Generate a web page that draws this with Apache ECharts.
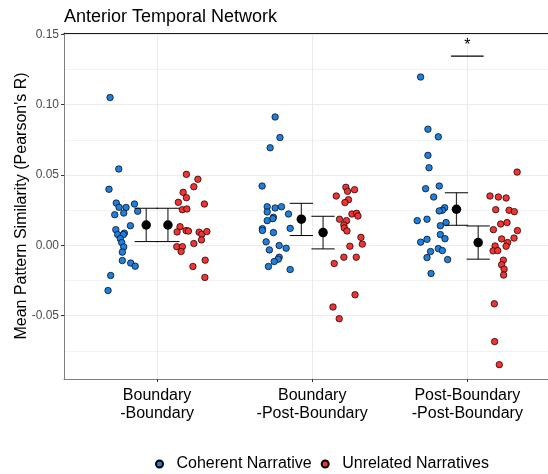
<!DOCTYPE html>
<html><head><meta charset="utf-8">
<script src="https://cdn.jsdelivr.net/npm/echarts@6/dist/echarts.min.js"></script>
<style>html,body{margin:0;padding:0;background:#fff}#c{width:548px;height:474px}</style>
</head><body><div id="c"></div>
<script>
// ---- data ----
const categories = ['Boundary\n-Boundary', 'Boundary\n-Post-Boundary', 'Post-Boundary\n-Post-Boundary'];
const yTicks = [-0.05, 0, 0.05, 0.10, 0.15];
const yMinorTicks = [-0.075, -0.025, 0.025, 0.075, 0.125];
const seriesNames = ['Coherent Narrative', 'Unrelated Narratives'];

const coherentCat1 = [0.1051,0.0543,0.0399,0.0301,0.0271,0.0270,0.0294,0.0243,0.0218,0.0230,0.0140,0.0112,0.0087,0.0077,0.0077,0.0048,0.0020,-0.0011,-0.0048,-0.0108,-0.0126,-0.0148,-0.0214,-0.0321];
const coherentCat1Jitter = [-0.303,-0.247,-0.310,-0.263,-0.245,-0.200,-0.146,-0.125,-0.273,-0.215,-0.172,-0.266,-0.211,-0.254,-0.217,-0.237,-0.228,-0.215,-0.224,-0.224,-0.170,-0.141,-0.299,-0.316];
const coherentCat2 = [0.0913,0.0767,0.0694,0.0422,0.0275,0.0266,0.0275,0.0238,0.0223,0.0200,0.0190,0.0176,0.0119,0.0106,0.0121,0.0091,0.0025,-0.0001,-0.0020,-0.0032,-0.0084,-0.0098,-0.0115,-0.0150,-0.0172];
const coherentCat2Jitter = [-0.239,-0.208,-0.271,-0.323,-0.290,-0.239,-0.198,-0.290,-0.153,-0.250,-0.254,-0.290,-0.321,-0.321,-0.142,-0.250,-0.297,-0.213,-0.168,-0.276,-0.213,-0.219,-0.245,-0.282,-0.142];
const coherentCat3 = [0.1197,0.0826,0.0772,0.0640,0.0552,0.0403,0.0422,0.0344,0.0268,0.0250,0.0245,0.0176,0.0186,0.0162,0.0140,0.0077,0.0048,0.0043,0.0023,-0.0044,-0.0023,-0.0037,-0.0087,-0.0101,-0.0200];
const coherentCat3Jitter = [-0.301,-0.254,-0.187,-0.254,-0.247,-0.269,-0.181,-0.217,-0.146,-0.161,-0.181,-0.323,-0.260,-0.137,-0.174,-0.174,-0.144,-0.260,-0.301,-0.237,-0.187,-0.161,-0.260,-0.127,-0.234];

const unrelatedCat1 = [0.0505,0.0470,0.0417,0.0377,0.0339,0.0306,0.0294,0.0254,0.0259,0.0133,0.0096,0.0105,0.0102,0.0094,0.0079,0.0098,0.0039,0.0013,-0.0009,-0.0009,-0.0044,-0.0105,-0.0150,-0.0228];
const unrelatedCat1Jitter = [0.189,0.263,0.237,0.168,0.189,0.137,0.305,0.163,0.192,0.148,0.129,0.187,0.202,0.271,0.288,0.321,0.286,0.237,0.127,0.163,0.155,0.310,0.231,0.308];
const unrelatedCat2 = [0.0413,0.0396,0.0384,0.0351,0.0325,0.0304,0.0223,0.0228,0.0209,0.0186,0.0176,0.0145,0.0124,0.0103,0.0057,0.0009,-0.0006,-0.0084,-0.0084,-0.0129,-0.0351,-0.0438,-0.0521];
const unrelatedCat2Jitter = [0.217,0.273,0.228,0.155,0.234,0.211,0.256,0.286,0.295,0.176,0.221,0.204,0.207,0.224,0.314,0.323,0.243,0.204,0.284,0.142,0.276,0.134,0.174];
const unrelatedCat3 = [0.0521,0.0351,0.0344,0.0337,0.0254,0.0250,0.0240,0.0152,0.0162,0.0112,0.0105,0.0046,0.0052,0.0020,-0.0006,-0.0004,-0.0039,-0.0037,-0.0105,-0.0138,-0.0169,-0.0211,-0.0415,-0.0684,-0.0848];
const unrelatedCat3Jitter = [0.321,0.146,0.200,0.250,0.183,0.269,0.303,0.215,0.256,0.168,0.323,0.221,0.301,0.260,0.250,0.179,0.166,0.196,0.232,0.221,0.237,0.234,0.174,0.176,0.206];

const coherentMean = [0.0145, 0.0186, 0.0257];
const coherentLow  = [0.0027, 0.0070, 0.0143];
const coherentHigh = [0.0264, 0.0299, 0.0374];
const unrelatedMean = [0.0145, 0.0091, 0.0020];
const unrelatedLow  = [0.0027, -0.0025, -0.0098];
const unrelatedHigh = [0.0264, 0.0207, 0.0138];

const sigLevel = 0.1346;   // y of significance bracket
const sigCategory = 3;
const sigLabel = '*';

// ---- build ----
const FONT = "'Liberation Sans', Arial, Helvetica, sans-serif";
const DODGE = 0.07, CAP = 0.075, SIG_HALF = 0.105;
const BLUE = '#1f7fdf', RED = '#f23333';

function pts(groups, jitters) {
  const out = [];
  groups.forEach((g, ci) => g.forEach((v, j) => out.push([ci + 1 + jitters[ci][j], v])));
  return out;
}
const coherentPts = pts([coherentCat1, coherentCat2, coherentCat3], [coherentCat1Jitter, coherentCat2Jitter, coherentCat3Jitter]);
const unrelatedPts = pts([unrelatedCat1, unrelatedCat2, unrelatedCat3], [unrelatedCat1Jitter, unrelatedCat2Jitter, unrelatedCat3Jitter]);
const summary = [];
categories.forEach((c, i) => {
  summary.push([i + 1 - DODGE, coherentMean[i], coherentLow[i], coherentHigh[i]]);
  summary.push([i + 1 + DODGE, unrelatedMean[i], unrelatedLow[i], unrelatedHigh[i]]);
});

const XMIN = 0.4, XMAX = 3.52, YMIN = -0.095, YMAX = 0.151;

const option = {
  animation: false,
  textStyle: { fontFamily: FONT },
  title: { text: 'Anterior Temporal Network', left: 64, top: 8, padding: 0,
    textStyle: { fontFamily: FONT, fontSize: 18, fontWeight: 'normal', color: '#000' } },
  legend: {
    data: seriesNames, left: 150, top: 451, icon: 'circle', itemWidth: 24, itemHeight: 7, itemGap: 9,
    textStyle: { fontFamily: FONT, fontSize: 16, color: '#000' }
  },
  grid: { left: 64, right: 0, top: 33, bottom: 95, containLabel: false, outerBoundsMode: 'none' },
  xAxis: [
    { type: 'value', min: XMIN, max: XMAX, position: 'bottom',
      axisLine: { show: true, onZero: false, lineStyle: { color: '#7f7f7f', width: 1 } },
      axisTick: { show: true, length: 3, customValues: [1,2,3], lineStyle: { color: '#333' } },
      axisLabel: { customValues: [1,2,3], margin: 8, fontSize: 16, lineHeight: 18, color: '#000', fontFamily: FONT,
        formatter: v => categories[Math.round(v) - 1] },
      splitLine: { show: true, lineStyle: { color: '#ebebeb', width: 1 } } },
    { type: 'value', min: XMIN, max: XMAX, position: 'top',
      axisLine: { show: true, onZero: false, lineStyle: { color: '#1a1a1a', width: 1 } },
      axisTick: { show: false }, axisLabel: { show: false }, splitLine: { show: false } }
  ],
  yAxis: [
    { type: 'value', min: YMIN, max: YMAX,
      name: "Mean Pattern Similarity (Pearson's R)", nameLocation: 'middle', nameGap: 42, nameMoveOverlap: false,
      nameTextStyle: { fontFamily: FONT, fontSize: 16, color: '#000', verticalAlign: 'middle' },
      axisLine: { show: true, onZero: false, lineStyle: { color: '#7f7f7f', width: 1 } },
      axisTick: { show: true, length: 3, customValues: yTicks, lineStyle: { color: '#333' } },
      axisLabel: { customValues: yTicks, margin: 5, fontSize: 12, color: '#4d4d4d', fontFamily: FONT,
        formatter: v => v.toFixed(2) },
      splitLine: { show: true, lineStyle: { color: '#ebebeb', width: 1 } } },
    { type: 'value', min: YMIN, max: YMAX, position: 'left',
      axisLine: { show: false, onZero: false }, axisTick: { show: false, customValues: yMinorTicks },
      axisLabel: { show: false, customValues: yMinorTicks },
      splitLine: { show: true, lineStyle: { color: '#f2f2f2', width: 1 } } }
  ],
  series: [
    { name: seriesNames[0], type: 'scatter', data: coherentPts, symbolSize: 6.5, z: 2,
      itemStyle: { color: BLUE, borderColor: '#000', borderWidth: 0.7, opacity: 1 } },
    { name: seriesNames[1], type: 'scatter', data: unrelatedPts, symbolSize: 6.5, z: 2,
      itemStyle: { color: RED, borderColor: '#000', borderWidth: 0.7, opacity: 1 } },
    { type: 'custom', z: 3, data: summary, silent: true,
      renderItem: (params, api) => {
        const x = api.value(0), lo = api.value(2), hi = api.value(3);
        const t = api.coord([x, hi]), b = api.coord([x, lo]);
        const l = api.coord([x - CAP, hi])[0], r = api.coord([x + CAP, hi])[0];
        const st = { stroke: '#000', lineWidth: 1 };
        return { type: 'group', children: [
          { type: 'line', shape: { x1: t[0], y1: t[1], x2: b[0], y2: b[1] }, style: { stroke: '#333', lineWidth: 1.2 } },
          { type: 'line', shape: { x1: l, y1: t[1], x2: r, y2: t[1] }, style: st },
          { type: 'line', shape: { x1: l, y1: b[1], x2: r, y2: b[1] }, style: st }
        ]};
      } },
    { type: 'scatter', z: 4, data: summary.map(d => [d[0], d[1]]), symbolSize: 9.5, silent: true,
      itemStyle: { color: '#000', opacity: 1 } },
    { type: 'custom', z: 4, data: [[sigCategory, sigLevel]], silent: true,
      renderItem: (params, api) => {
        const c = api.value(0), y = api.value(1);
        const a = api.coord([c - SIG_HALF, y]), b = api.coord([c + SIG_HALF, y]), m = api.coord([c, y]);
        return { type: 'group', children: [
          { type: 'line', shape: { x1: a[0], y1: a[1], x2: b[0], y2: b[1] }, style: { stroke: '#000', lineWidth: 1.2 } },
          { type: 'text', x: m[0], y: m[1] - 10, style: { text: sigLabel, fill: '#000', fontSize: 16, fontFamily: FONT,
            align: 'center', verticalAlign: 'middle' } }
        ]};
      } }
  ]
};
const chart = echarts.init(document.getElementById('c'), null, { renderer: 'canvas' });
chart.setOption(option);
</script></body></html>
